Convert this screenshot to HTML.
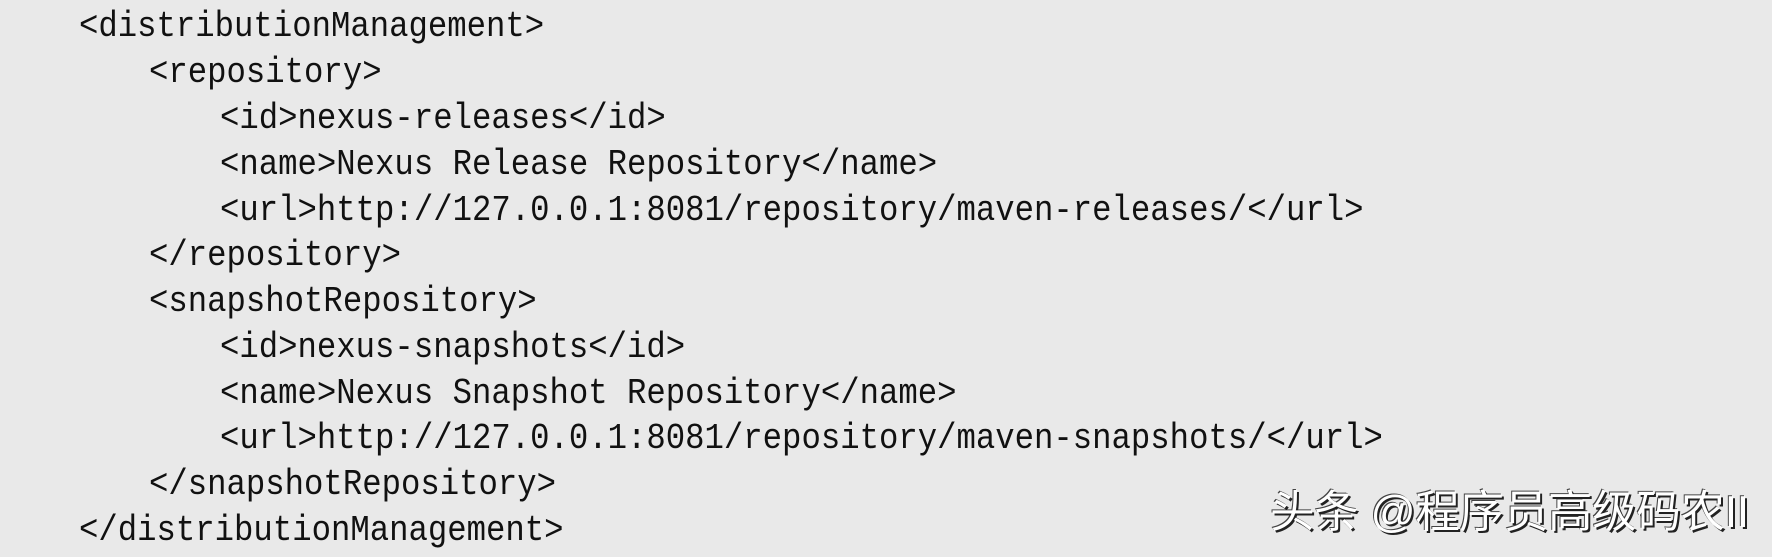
<!DOCTYPE html>
<html><head><meta charset="utf-8"><style>
html,body{margin:0;padding:0;}
body{width:1772px;height:550px;background:#e9e9e9;position:relative;overflow:hidden;}
.l{position:absolute;left:0;font-family:"Liberation Mono","DejaVu Sans Mono",monospace;font-size:32.3px;color:#111;white-space:pre;line-height:46px;transform:scaleY(1.12);transform-origin:0 50%;}
.w{position:absolute;left:1270px;top:475px;font-family:"Liberation Sans","Noto Sans CJK SC",sans-serif;font-size:44.5px;color:#fff;text-shadow:2px 2px 0 #222,-1px -1px 0 #444;white-space:nowrap;letter-spacing:-0.3px;}
</style></head><body>
<div class="l" style="top:4px;left:79px">&lt;distributionManagement&gt;</div>
<div class="l" style="top:50px;left:149px">&lt;repository&gt;</div>
<div class="l" style="top:96px;left:220px">&lt;id&gt;nexus-releases&lt;/id&gt;</div>
<div class="l" style="top:142px;left:220px">&lt;name&gt;Nexus Release Repository&lt;/name&gt;</div>
<div class="l" style="top:188px;left:220px">&lt;url&gt;http://127.0.0.1:8081/repository/maven-releases/&lt;/url&gt;</div>
<div class="l" style="top:233px;left:149px">&lt;/repository&gt;</div>
<div class="l" style="top:279px;left:149px">&lt;snapshotRepository&gt;</div>
<div class="l" style="top:325px;left:220px">&lt;id&gt;nexus-snapshots&lt;/id&gt;</div>
<div class="l" style="top:371px;left:220px">&lt;name&gt;Nexus Snapshot Repository&lt;/name&gt;</div>
<div class="l" style="top:416px;left:220px">&lt;url&gt;http://127.0.0.1:8081/repository/maven-snapshots/&lt;/url&gt;</div>
<div class="l" style="top:462px;left:149px">&lt;/snapshotRepository&gt;</div>
<div class="l" style="top:508px;left:79px">&lt;/distributionManagement&gt;</div>
<div class="w">头条 @程序员高级码农II</div>
</body></html>
